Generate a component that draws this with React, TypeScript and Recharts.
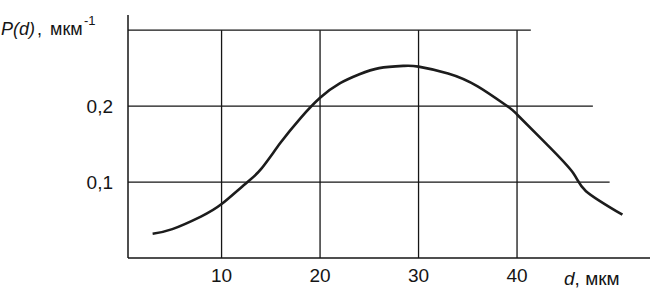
import React from 'react';
import { LineChart, Line, XAxis, YAxis, ReferenceLine } from 'recharts';

// particle size, мкм
const sizes = [3.0, 5, 7.9, 10, 12.4, 14, 16, 18, 20, 22, 24, 26, 28.5, 30, 33, 36, 39, 40, 43, 45.7, 47.0, 50.7];
// probability density P(d), мкм^-1
const density = [0.032, 0.038, 0.0545, 0.071, 0.0975, 0.117, 0.152, 0.184, 0.211, 0.23, 0.242, 0.25, 0.253, 0.252, 0.243, 0.226, 0.2, 0.189, 0.15, 0.112, 0.088, 0.057];

const xTicks = [10, 20, 30, 40];
const yTicks = [0.1, 0.2];
// horizontal grid lines and where each one stops on the right
const hGridLevels = [0.1, 0.2, 0.3];
const hGridEnds = [49.4, 47.7, 41.4];

const data = sizes.map((d, i) => ({ d, p: density[i] }));

const FONT = '"Liberation Sans", Arial, sans-serif';
const INK = '#151515';

const App: React.FC = () => {
  return (
    <div style={{ position: 'absolute', left: 0, top: 0, width: 668, height: 290, background: '#fff' }}>
      <LineChart width={668} height={290} data={data} margin={{ top: 15, right: 18, left: 0, bottom: 0 }}>
        <XAxis
          type="number"
          dataKey="d"
          domain={[0.5, 53.5]}
          ticks={xTicks}
          allowDataOverflow
          height={32}
          tickLine={false}
          tickMargin={5}
          axisLine={{ stroke: INK, strokeWidth: 1.5 }}
          tick={{ fill: INK, fontSize: 19, fontFamily: FONT }}
        />
        <YAxis
          type="number"
          domain={[0, 0.32]}
          ticks={yTicks}
          width={128}
          tickLine={false}
          tickMargin={9}
          axisLine={{ stroke: INK, strokeWidth: 1.5 }}
          tick={{ fill: INK, fontSize: 19, fontFamily: FONT }}
          tickFormatter={(v: number) => v.toFixed(1).replace('.', ',')}
        />
        {hGridLevels.map((lvl, i) => (
          <ReferenceLine
            key={'h' + lvl}
            segment={[{ x: 0.5, y: lvl }, { x: hGridEnds[i], y: lvl }]}
            stroke={INK}
            strokeWidth={1.3}
            ifOverflow="visible"
          />
        ))}
        {xTicks.map((t) => (
          <ReferenceLine
            key={'v' + t}
            segment={[{ x: t, y: 0 }, { x: t, y: 0.3 }]}
            stroke={INK}
            strokeWidth={1.3}
          />
        ))}
        <Line
          type="natural"
          dataKey="p"
          stroke="#1c1c1c"
          strokeWidth={2.6}
          dot={false}
          isAnimationActive={false}
        />
      </LineChart>
      <svg width={668} height={290} style={{ position: 'absolute', left: 0, top: 0, pointerEvents: 'none' }}>
        <text y={35} fontSize={18} fill={INK} fontFamily={FONT}>
          <tspan x={1} fontStyle="italic">P(d)</tspan>
          <tspan x={37}>,</tspan>
          <tspan x={50}>мкм</tspan>
          <tspan x={84} dy={-10} fontSize={13}>-1</tspan>
        </text>
        <text y={285} fontSize={19} fill={INK} fontFamily={FONT}>
          <tspan x={564} fontStyle="italic">d</tspan>
          <tspan>, мкм</tspan>
        </text>
      </svg>
    </div>
  );
};

export default App;
